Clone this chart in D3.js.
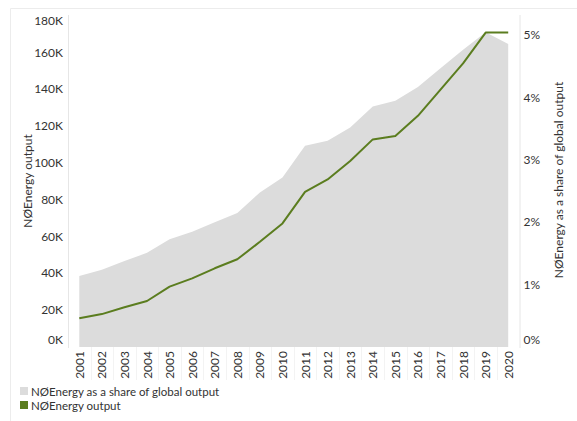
<!DOCTYPE html>
<html>
<head>
<meta charset="utf-8">
<script src="https://cdn.jsdelivr.net/npm/d3@7/dist/d3.min.js"></script>
<style>
  body { margin: 0; background: #fff; }
  svg { display: block; font-family: Lato, "Open Sans", sans-serif; }
</style>
</head>
<body>
<svg id="chart" width="577" height="421"></svg>
<script>
const years = ["2001", "2002", "2003", "2004", "2005", "2006", "2007", "2008", "2009", "2010",
  "2011", "2012", "2013", "2014", "2015", "2016", "2017", "2018", "2019", "2020"];

// NØEnergy output (left axis)
const output = [15600, 17900, 21600, 25000, 32800, 37300, 42800, 47700, 57200, 67200,
  84400, 91100, 101100, 112900, 114800, 125700, 140000, 154200, 171000, 171000];

// NØEnergy as a share of global output (right axis)
const share = [0.0114, 0.0124, 0.0138, 0.0151, 0.0173, 0.0185, 0.0200, 0.0215, 0.0248, 0.0272,
  0.0323, 0.0331, 0.0352, 0.0386, 0.0395, 0.0417, 0.0447, 0.0477, 0.0505, 0.0486];

const leftTicks = [0, 20000, 40000, 60000, 80000, 100000, 120000, 140000, 160000, 180000];
const rightTicks = [0, 0.01, 0.02, 0.03, 0.04, 0.05];

const legendItems = [
  { label: "NØEnergy as a share of global output", color: "#dcdcdc" },
  { label: "NØEnergy output", color: "#5b7d1f" }
];

const svg = d3.select("#chart");
const textColor = "#333";
const lineGray = "#e6e6e6";

const plot = { left: 68, right: 519.5, top: 16, bottom: 347 };

const x = d3.scaleBand().domain(years).range([plot.left, plot.right]).padding(0);
const cx = (d) => x(d) + x.bandwidth() / 2;
const yLeft = d3.scaleLinear().domain([0, 180000]).range([plot.bottom, plot.top]);
const yRight = d3.scaleLinear().domain([0, 0.0531]).range([plot.bottom, plot.top]);

// outer frame (faint)
svg.append("line").attr("x1", 10.5).attr("x2", 577).attr("y1", 8.5).attr("y2", 8.5)
  .attr("stroke", "#ececec");
svg.append("line").attr("x1", 10.5).attr("x2", 10.5).attr("y1", 8.5).attr("y2", 421)
  .attr("stroke", "#ececec");

// share area
const area = d3.area()
  .x((d, i) => cx(years[i]))
  .y0(plot.bottom)
  .y1((d) => yRight(d));

svg.append("path")
  .datum(share)
  .attr("d", area)
  .attr("fill", legendItems[0].color);

// output line
const line = d3.line()
  .x((d, i) => cx(years[i]))
  .y((d) => yLeft(d));

svg.append("path")
  .datum(output)
  .attr("d", line)
  .attr("fill", "none")
  .attr("stroke", legendItems[1].color)
  .attr("stroke-width", 2)
  .attr("stroke-linejoin", "round");

// axis lines
svg.append("line").attr("x1", plot.left + 0.5).attr("x2", plot.left + 0.5)
  .attr("y1", 15).attr("y2", 348).attr("stroke", lineGray);
svg.append("line").attr("x1", plot.right + 0.5).attr("x2", plot.right + 0.5)
  .attr("y1", 15).attr("y2", 348).attr("stroke", lineGray);

// faint separators under the year labels
svg.append("g")
  .selectAll("line")
  .data(years.slice(1))
  .join("line")
  .attr("x1", (d) => Math.round(x(d)) + 0.5)
  .attr("x2", (d) => Math.round(x(d)) + 0.5)
  .attr("y1", plot.bottom)
  .attr("y2", 380)
  .attr("stroke", "#f3f3f3");

// clamp end labels inside the plot, like the original
const clampY = (y) => Math.max(21, Math.min(340, y));

const leftAxis = svg.append("g")
  .attr("transform", `translate(${plot.left - 5},0)`)
  .call(d3.axisLeft(yLeft).tickValues(leftTicks).tickSize(0).tickPadding(0)
    .tickFormat((d) => d / 1000 + "K"));
leftAxis.select(".domain").remove();
leftAxis.selectAll(".tick").attr("transform", (d) => `translate(0,${clampY(yLeft(d))})`);
leftAxis.selectAll("text").attr("font-family", "Lato, sans-serif").attr("font-size", 12)
  .attr("fill", textColor);

const rightAxis = svg.append("g")
  .attr("transform", `translate(${plot.right + 4},0)`)
  .call(d3.axisRight(yRight).tickValues(rightTicks).tickSize(0).tickPadding(0)
    .tickFormat(d3.format(".0%")));
rightAxis.select(".domain").remove();
rightAxis.selectAll(".tick").attr("transform", (d) => `translate(0,${clampY(yRight(d))})`);
rightAxis.selectAll("text").attr("font-family", "Lato, sans-serif").attr("font-size", 12)
  .attr("fill", textColor);

// year labels
svg.append("g")
  .selectAll("text")
  .data(years)
  .join("text")
  .attr("transform", (d) => `translate(${cx(d)},351) rotate(-90)`)
  .attr("text-anchor", "end")
  .attr("dominant-baseline", "central")
  .attr("font-size", 12)
  .attr("fill", textColor)
  .text((d) => d);

// axis titles
svg.append("text")
  .attr("transform", "translate(27,181) rotate(-90)")
  .attr("text-anchor", "middle")
  .attr("dominant-baseline", "central")
  .attr("font-size", 12)
  .attr("fill", textColor)
  .text("NØEnergy output");

svg.append("text")
  .attr("transform", "translate(558,180) rotate(-90)")
  .attr("text-anchor", "middle")
  .attr("dominant-baseline", "central")
  .attr("font-size", 12)
  .attr("fill", textColor)
  .text("NØEnergy as a share of global output");

// legend
const legend = svg.append("g")
  .selectAll("g")
  .data(legendItems)
  .join("g")
  .attr("transform", (d, i) => `translate(20,${387 + i * 14})`);

legend.append("rect").attr("width", 8).attr("height", 8).attr("fill", (d) => d.color);
legend.append("text")
  .attr("x", 11)
  .attr("y", 4)
  .attr("dominant-baseline", "central")
  .attr("font-size", 11.5)
  .attr("fill", textColor)
  .text((d) => d.label);
</script>
</body>
</html>
